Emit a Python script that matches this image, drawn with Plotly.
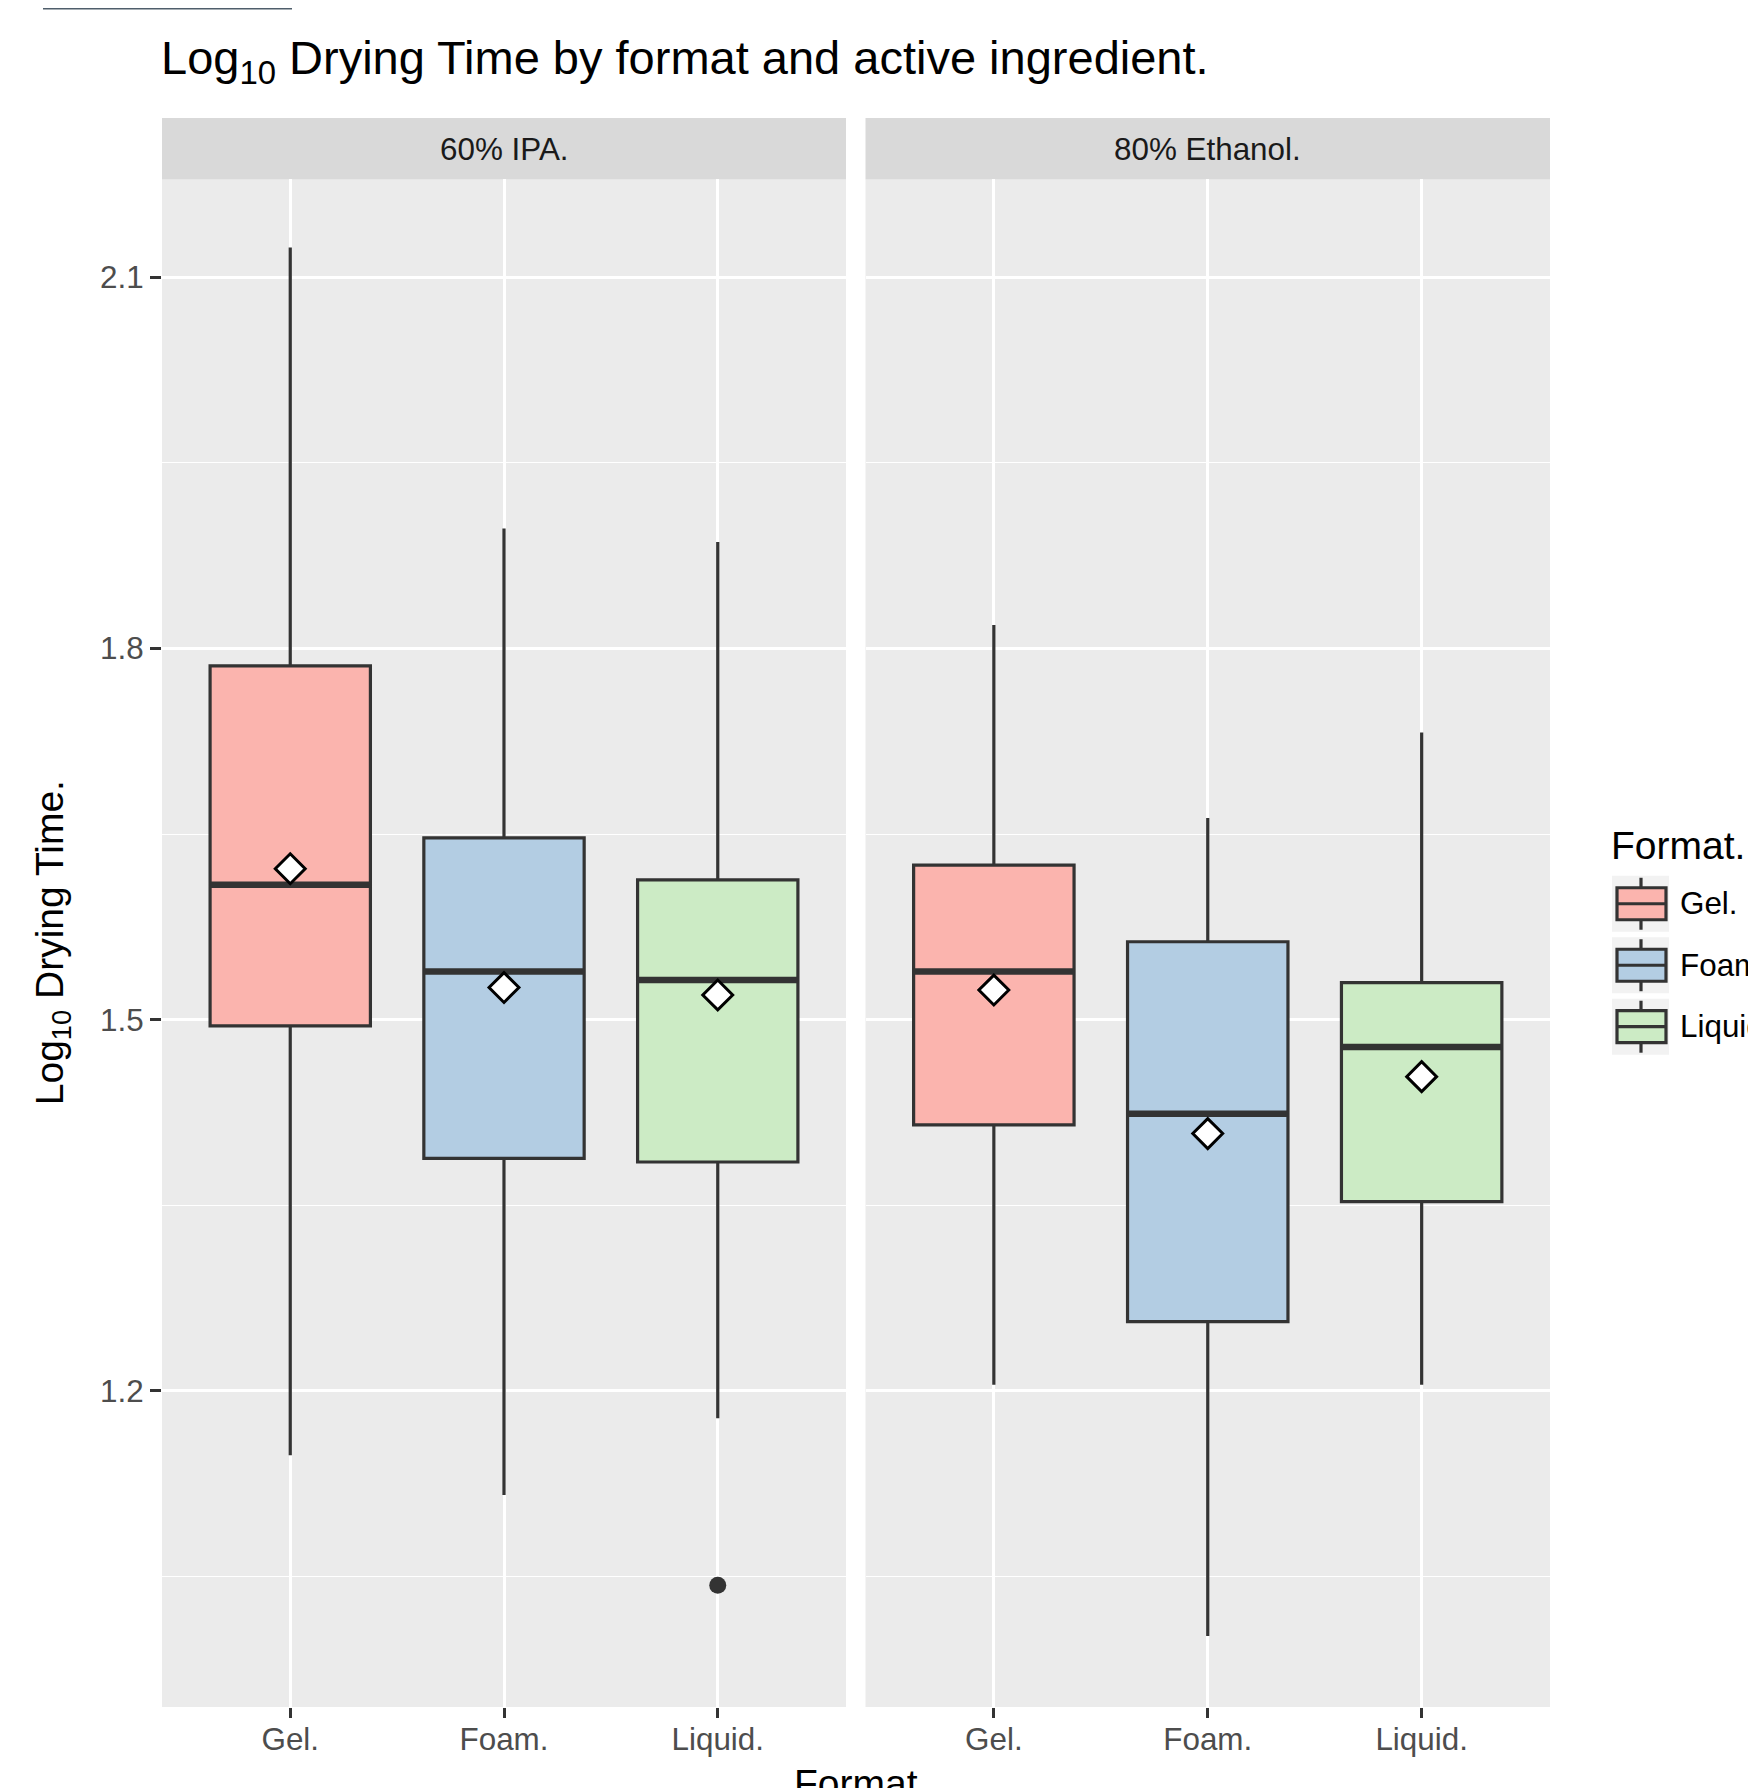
import plotly.graph_objects as go

# ---------------- data ----------------
formats = ["Gel.", "Foam.", "Liquid."]
ingredients = ["60% IPA.", "80% Ethanol."]
fill_colors = ["#FBB4AE", "#B3CDE3", "#CCEBC5"]

ipa_upper = [2.124, 1.897, 1.886]
ipa_q3 = [1.786, 1.647, 1.613]
ipa_median = [1.609, 1.539, 1.532]
ipa_q1 = [1.495, 1.388, 1.385]
ipa_lower = [1.148, 1.116, 1.178]
ipa_mean = [1.622, 1.526, 1.520]
ipa_outlier_format = ["Liquid."]
ipa_outlier_value = [1.043]

eth_upper = [1.819, 1.663, 1.732]
eth_q3 = [1.625, 1.563, 1.530]
eth_median = [1.539, 1.424, 1.478]
eth_q1 = [1.415, 1.256, 1.353]
eth_lower = [1.205, 1.002, 1.205]
eth_mean = [1.524, 1.408, 1.454]
eth_outlier_format = []
eth_outlier_value = []

y_tick_vals = [1.2, 1.5, 1.8, 2.1]
y_tick_text = ["1.2", "1.5", "1.8", "2.1"]

# ---------------- layout geometry (page pixels, body has 8px margin) ----------------
OFF = 8
W, H = 1756 - OFF, 1788 - OFF
L, R, T, B = 162 - OFF, 1550 - OFF, 117.5 - OFF, 1707 - OFF
PW, PH = R - L, B - T


def px(xp):
    return (xp - OFF - L) / PW


def py(yp):
    return (B - (yp - OFF)) / PH


ydom_top = py(179)
xdom1 = [0, px(846)]
xdom2 = [px(865.5), 1]

FONT = "Liberation Sans, Arial, Helvetica, sans-serif"
LINE = "#333333"
BOXW = 0.75
LW = 3.2
SMALL = 31.4
MED = 39
BIG = 47

panels = [
    dict(name=ingredients[0], upper=ipa_upper, q3=ipa_q3, med=ipa_median, q1=ipa_q1,
         lower=ipa_lower, mean=ipa_mean, of=ipa_outlier_format, ov=ipa_outlier_value,
         xa="x", ya="y"),
    dict(name=ingredients[1], upper=eth_upper, q3=eth_q3, med=eth_median, q1=eth_q1,
         lower=eth_lower, mean=eth_mean, of=eth_outlier_format, ov=eth_outlier_value,
         xa="x2", ya="y2"),
]

fig = go.Figure()
for p in panels:
    for i, f in enumerate(formats):
        xpos = i + 1
        fig.add_trace(go.Box(
            x=[xpos], q1=[p["q1"][i]], median=[p["med"][i]], q3=[p["q3"][i]],
            lowerfence=[p["lower"][i]], upperfence=[p["upper"][i]],
            width=BOXW, whiskerwidth=0, boxpoints=False,
            fillcolor=fill_colors[i], line=dict(color=LINE, width=LW),
            xaxis=p["xa"], yaxis=p["ya"], showlegend=False, name=f,
            hoverinfo="skip",
        ))
        # thicker median line
        fig.add_trace(go.Scatter(
            x=[xpos - BOXW / 2, xpos + BOXW / 2], y=[p["med"][i], p["med"][i]],
            mode="lines", line=dict(color=LINE, width=6.5),
            xaxis=p["xa"], yaxis=p["ya"], showlegend=False, hoverinfo="skip",
        ))
    # means
    fig.add_trace(go.Scatter(
        x=[i + 1 for i in range(len(formats))], y=p["mean"], mode="markers",
        marker=dict(symbol="diamond", size=23, color="white",
                    line=dict(color="black", width=3)),
        xaxis=p["xa"], yaxis=p["ya"], showlegend=False, hoverinfo="skip",
    ))
    # outliers
    if p["ov"]:
        fig.add_trace(go.Scatter(
            x=[formats.index(f) + 1 for f in p["of"]], y=p["ov"], mode="markers",
            marker=dict(symbol="circle", size=17, color=LINE),
            xaxis=p["xa"], yaxis=p["ya"], showlegend=False, hoverinfo="skip",
        ))

xaxis_common = dict(
    range=[0.4, 3.6], tickvals=[1, 2, 3], ticktext=formats,
    showgrid=True, gridcolor="white", gridwidth=2.8, zeroline=False,
    ticks="outside", ticklen=10, tickwidth=2.7, tickcolor=LINE,
    ticklabelstandoff=-6,
    tickfont=dict(family=FONT, size=SMALL, color="#4D4D4D"),
    showline=False, fixedrange=True,
)
yaxis_common = dict(
    range=[0.9446, 2.179], domain=[0, ydom_top],
    tickvals=y_tick_vals, ticktext=y_tick_text,
    showgrid=True, gridcolor="white", gridwidth=2.8, zeroline=False,
    minor=dict(tick0=1.05, dtick=0.3, showgrid=True, gridcolor="white", gridwidth=1.4, ticks=""),
    showline=False, fixedrange=True,
)

fig.update_layout(
    width=W, height=H,
    margin=dict(l=L, r=W - R, t=T, b=H - B, pad=0),
    paper_bgcolor="white", plot_bgcolor="#EBEBEB",
    showlegend=False,
    xaxis=dict(xaxis_common, domain=xdom1, anchor="y"),
    xaxis2=dict(xaxis_common, domain=xdom2, anchor="y2"),
    yaxis=dict(yaxis_common, anchor="x", ticks="outside", ticklen=11, tickwidth=2.7,
               tickcolor=LINE, tickfont=dict(family=FONT, size=SMALL, color="#4D4D4D")),
    yaxis2=dict(yaxis_common, anchor="x2", matches="y", showticklabels=False, ticks=""),
)

shapes = []
annotations = []

# facet strips
for dom, p in zip([xdom1, xdom2], panels):
    shapes.append(dict(type="rect", xref="paper", yref="paper", x0=dom[0], x1=dom[1],
                       y0=ydom_top, y1=1, fillcolor="#D9D9D9", line=dict(width=0), layer="below"))
    annotations.append(dict(xref="paper", yref="paper", x=(dom[0] + dom[1]) / 2,
                            y=py(149), text=p["name"], showarrow=False,
                            font=dict(family=FONT, size=SMALL, color="#1A1A1A"),
                            xanchor="center", yanchor="middle"))

# title
annotations.append(dict(xref="paper", yref="paper", x=px(159), y=py(60), xanchor="left",
                        yanchor="middle", showarrow=False,
                        text="Log<sub>10</sub> Drying Time by format and active ingredient.",
                        font=dict(family=FONT, size=BIG, color="black")))
# y axis title
annotations.append(dict(xref="paper", yref="paper", x=px(52), y=ydom_top / 2,
                        xanchor="center", yanchor="middle", showarrow=False, textangle=-90,
                        text="Log<sub>10</sub> Drying Time.",
                        font=dict(family=FONT, size=MED, color="black")))
# x axis title (cut by page edge)
annotations.append(dict(xref="paper", yref="paper", x=0.5, y=py(1784), xanchor="center",
                        yanchor="middle", showarrow=False, text="Format",
                        font=dict(family=FONT, size=MED, color="black")))

# legend (drawn manually to mimic ggplot keys)
annotations.append(dict(xref="paper", yref="paper", x=px(1609), y=py(845), xanchor="left",
                        yanchor="middle", showarrow=False, text="Format.",
                        font=dict(family=FONT, size=MED, color="black")))
row_centers = [903.5, 965, 1026.5]
for i, f in enumerate(formats):
    cy = row_centers[i]
    shapes.append(dict(type="rect", xref="paper", yref="paper", x0=px(1612), x1=px(1669),
                       y0=py(cy + 28), y1=py(cy - 28), fillcolor="#F2F2F2", line=dict(width=0)))
    shapes.append(dict(type="line", xref="paper", yref="paper", x0=px(1641), x1=px(1641),
                       y0=py(cy + 26), y1=py(cy - 26), line=dict(color=LINE, width=LW)))
    shapes.append(dict(type="rect", xref="paper", yref="paper", x0=px(1617), x1=px(1666),
                       y0=py(cy + 16), y1=py(cy - 16), fillcolor=fill_colors[i],
                       line=dict(color=LINE, width=LW)))
    shapes.append(dict(type="line", xref="paper", yref="paper", x0=px(1617), x1=px(1666),
                       y0=py(cy), y1=py(cy), line=dict(color=LINE, width=LW)))
    annotations.append(dict(xref="paper", yref="paper", x=px(1678), y=py(cy), xanchor="left",
                            yanchor="middle", showarrow=False, text=f,
                            font=dict(family=FONT, size=SMALL, color="black")))

# dark bar at the top-left edge (only the part inside the figure is visible)
shapes.append(dict(type="rect", xref="paper", yref="paper", x0=px(43), x1=px(292),
                   y0=py(9), y1=py(-10), fillcolor="#4F5E6B", line=dict(width=0)))

fig.update_layout(shapes=shapes, annotations=annotations)
fig.write_html("out.html")
